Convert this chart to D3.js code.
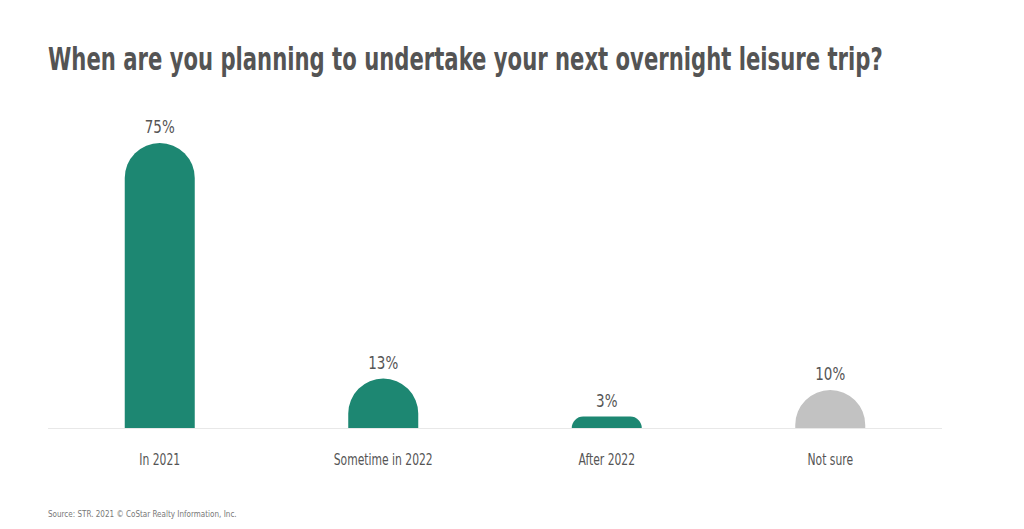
<!DOCTYPE html>
<html>
<head>
<meta charset="utf-8">
<script src="https://cdn.jsdelivr.net/npm/d3@7"></script>
<style>
  html, body { margin: 0; padding: 0; background: #ffffff; }
  svg { display: block; }
  text { font-family: "DejaVu Sans Condensed", "Liberation Sans Narrow", sans-serif; }
</style>
</head>
<body>
<svg id="chart" width="1024" height="529"></svg>
<script>
const titleText = "When are you planning to undertake your next overnight leisure trip?";
const sourceText = "Source: STR. 2021 © CoStar Realty Information, Inc.";
const categories = ["In 2021", "Sometime in 2022", "After 2022", "Not sure"];
const values = [75, 13, 3, 10];
const valueLabels = ["75%", "13%", "3%", "10%"];
const barColors = ["#1d8772", "#1d8772", "#1d8772", "#c2c2c2"];

const svg = d3.select("#chart");
const left = 48, right = 942, baseY = 428;

const x = d3.scaleBand()
  .domain(categories)
  .range([left, right])
  .paddingInner(0.6868)
  .paddingOuter(0.3434);

const y = d3.scaleLinear().domain([0, 75]).range([baseY, 143]);

// measure natural width of a string at a size/weight
function measure(str, size, weight) {
  const t = svg.append("text").attr("font-size", size).attr("font-weight", weight || "normal").text(str);
  const w = t.node().getComputedTextLength();
  t.remove();
  return w;
}

// horizontal condense factors to mimic the narrow typeface
const kTitle = 835 / measure(titleText, 32, "bold");
const kCat = 99 / measure("Sometime in 2022", 16);
const kVal = 30 / measure("75%", 18);
const kSrc = 189 / measure(sourceText, 9.5);

function scaledText(parent, px, py, k, anchor, size, weight, fill, str) {
  const g = parent.append("g").attr("transform", `translate(${px},${py}) scale(${k},1)`);
  g.append("text")
    .attr("x", 0).attr("y", 0)
    .attr("text-anchor", anchor)
    .attr("font-size", size)
    .attr("font-weight", weight)
    .attr("fill", fill)
    .text(str);
  return g;
}

// title
scaledText(svg, 48, 70, kTitle, "start", 32, "bold", "#545454", titleText);

// baseline
svg.append("line")
  .attr("x1", left).attr("x2", right)
  .attr("y1", baseY + 0.5).attr("y2", baseY + 0.5)
  .attr("stroke", "#e8e8e8").attr("stroke-width", 1);

function barPath(x0, w, top, bottom) {
  const h = bottom - top;
  const r = Math.min(w / 2, h);
  const p = d3.path();
  p.moveTo(x0, bottom);
  p.lineTo(x0, top + r);
  p.arcTo(x0, top, x0 + r, top, r);
  p.lineTo(x0 + w - r, top);
  p.arcTo(x0 + w, top, x0 + w, top + r, r);
  p.lineTo(x0 + w, bottom);
  p.closePath();
  return p.toString();
}

const data = categories.map((c, i) => ({ c, v: values[i], label: valueLabels[i], color: barColors[i] }));

svg.append("g").selectAll("path").data(data).join("path")
  .attr("d", d => barPath(x(d.c), x.bandwidth(), y(d.v), baseY))
  .attr("fill", d => d.color);

const gVals = svg.append("g");
data.forEach(d => {
  scaledText(gVals, x(d.c) + x.bandwidth() / 2, y(d.v) - 10, kVal, "middle", 18, "normal", "#555555", d.label);
});

// category axis labels (axis generator for tick positions)
const axis = d3.axisBottom(x).tickSize(0).tickPadding(0).tickFormat("");
const gAxis = svg.append("g").attr("transform", `translate(0, ${baseY})`).call(axis);
gAxis.select(".domain").remove();
gAxis.selectAll(".tick").each(function(c) {
  scaledText(d3.select(this), 0, 37, kCat, "middle", 16, "normal", "#555555", c);
});

// source
scaledText(svg, 48, 517, kSrc, "start", 9.5, "normal", "#777777", sourceText);
</script>
</body>
</html>
